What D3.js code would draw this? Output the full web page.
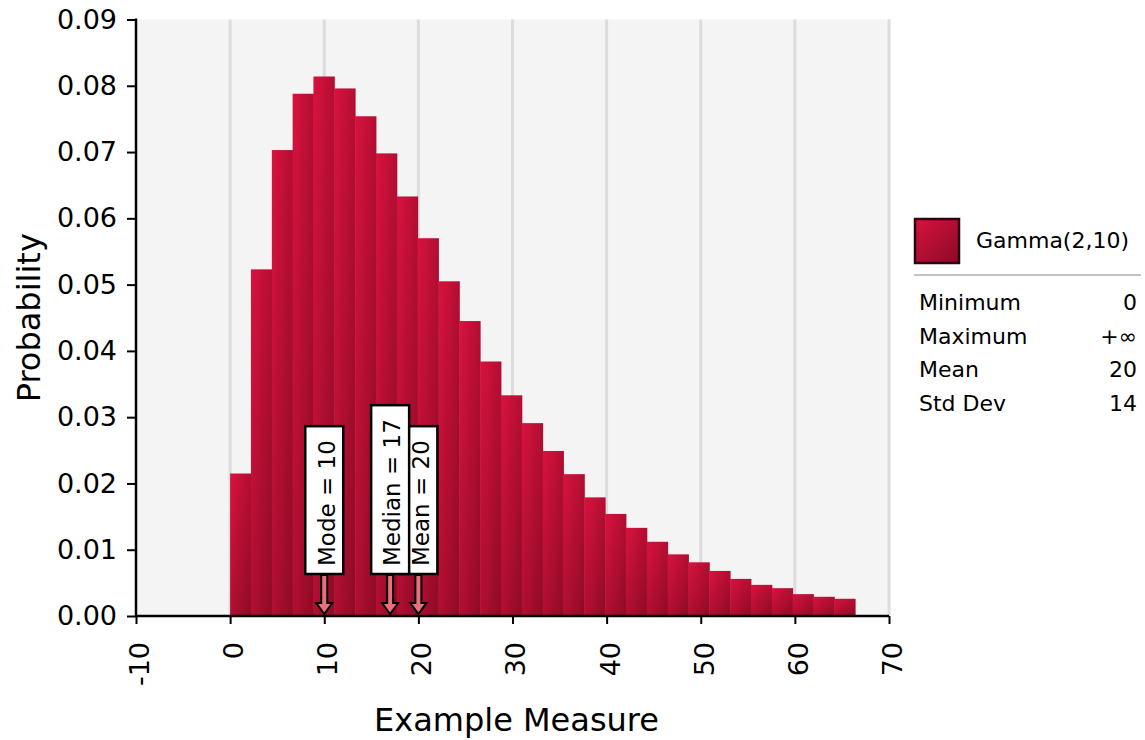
<!DOCTYPE html>
<html>
<head>
<meta charset="utf-8">
<script src="https://cdn.jsdelivr.net/npm/d3@7/dist/d3.min.js"></script>
<style>
  html, body { margin: 0; padding: 0; background: #ffffff; }
  svg { display: block; font-family: "DejaVu Sans", Verdana, sans-serif; }
</style>
</head>
<body>
<svg id="chart" width="1145" height="740"></svg>
<script>
// ---- data ----
const binEdges = [0, 2.21, 4.43, 6.64, 8.85, 11.07, 13.28, 15.49, 17.71, 19.92, 22.13,
                  24.35, 26.56, 28.77, 30.99, 33.2, 35.41, 37.63, 39.84, 42.05, 44.27,
                  46.48, 48.69, 50.91, 53.12, 55.33, 57.55, 59.76, 61.97, 64.19, 66.4];
const probabilities = [0.0215, 0.0523, 0.0703, 0.0788, 0.0814, 0.0796, 0.0754, 0.0698, 0.0633, 0.0570,
                       0.0505, 0.0445, 0.0384, 0.0333, 0.0291, 0.0249, 0.0214, 0.0179, 0.0154, 0.0133,
                       0.0112, 0.0093, 0.0081, 0.0068, 0.0056, 0.0047, 0.0042, 0.0033, 0.0029, 0.0026];
const xTicks = [-10, 0, 10, 20, 30, 40, 50, 60, 70];
const yTicks = [0, 0.01, 0.02, 0.03, 0.04, 0.05, 0.06, 0.07, 0.08, 0.09];
const markerNames = ["Mode", "Mean", "Median"];
const markerValues = [10, 20, 17];
const seriesName = "Gamma(2,10)";
const statNames = ["Minimum", "Maximum", "Mean", "Std Dev"];
const statValues = ["0", "+\u221e", "20", "14"];
const xTitle = "Example Measure";
const yTitle = "Probability";

// ---- layout ----
const plot = { left: 136, right: 889, top: 19.5, bottom: 616 };
const svg = d3.select("#chart");

const x = d3.scaleLinear().domain([-10, 70]).range([plot.left, plot.right]);
const y = d3.scaleLinear().domain([0, 0.09]).range([plot.bottom, plot.top]);

const defs = svg.append("defs");
const grad = defs.append("linearGradient").attr("id", "barGrad")
  .attr("x1", 0).attr("y1", 0).attr("x2", 1).attr("y2", 1);
grad.append("stop").attr("offset", "0%").attr("stop-color", "#d8123e");
grad.append("stop").attr("offset", "100%").attr("stop-color", "#8c0b26");

const grad2 = defs.append("linearGradient").attr("id", "swatchGrad")
  .attr("x1", 0).attr("y1", 0).attr("x2", 1).attr("y2", 1);
grad2.append("stop").attr("offset", "0%").attr("stop-color", "#d8123e");
grad2.append("stop").attr("offset", "100%").attr("stop-color", "#8a0a26");

// plot background
svg.append("rect")
  .attr("x", plot.left).attr("y", plot.top)
  .attr("width", plot.right - plot.left).attr("height", plot.bottom - plot.top)
  .attr("fill", "#f4f4f4");

// vertical gridlines
svg.append("g").selectAll("line").data(xTicks.slice(1)).join("line")
  .attr("x1", d => x(d)).attr("x2", d => x(d))
  .attr("y1", plot.top).attr("y2", plot.bottom)
  .attr("stroke", "#dcdcdc").attr("stroke-width", 3);

// bars
const bars = probabilities.map((p, i) => ({ x0: binEdges[i], x1: binEdges[i + 1], p }));
svg.append("g").selectAll("rect").data(bars).join("rect")
  .attr("x", d => x(d.x0))
  .attr("width", d => x(d.x1) - x(d.x0) + 0.5)
  .attr("y", d => y(d.p))
  .attr("height", d => y(0) - y(d.p))
  .attr("fill", "url(#barGrad)");

// axes
const yAxis = d3.axisLeft(y).tickValues(yTicks).tickFormat(d3.format(".2f")).tickSize(9).tickPadding(10);
const gy = svg.append("g").attr("transform", `translate(${plot.left},0)`).call(yAxis);
gy.select(".domain").attr("stroke", "#000").attr("stroke-width", 2.5)
  .attr("d", `M0,${plot.top - 1}V${plot.bottom}`);
gy.selectAll(".tick line").attr("stroke", "#000").attr("stroke-width", 2);
gy.selectAll(".tick text").attr("font-size", 27).attr("fill", "#000")
  .attr("font-family", "DejaVu Sans, sans-serif");

const xAxis = d3.axisBottom(x).tickValues(xTicks).tickFormat(d => String(d)).tickSize(8);
const gx = svg.append("g").attr("transform", `translate(0,${plot.bottom})`).call(xAxis);
gx.select(".domain").attr("stroke", "#000").attr("stroke-width", 2.5)
  .attr("d", `M${plot.left},0H${plot.right}`);
gx.selectAll(".tick line").attr("stroke", "#000").attr("stroke-width", 2);
gx.selectAll(".tick text")
  .attr("font-size", 27).attr("fill", "#000").attr("font-family", "DejaVu Sans, sans-serif")
  .attr("text-anchor", "end")
  .attr("transform", "translate(3,26) rotate(-90)")
  .attr("x", 0).attr("y", 0).attr("dy", "0.35em");

// axis titles
svg.append("text").text(xTitle)
  .attr("x", (plot.left + plot.right) / 2 + 4).attr("y", 731)
  .attr("text-anchor", "middle").attr("font-size", 32).attr("fill", "#000");
svg.append("text").text(yTitle)
  .attr("transform", `translate(40,${(plot.top + plot.bottom) / 2}) rotate(-90)`)
  .attr("text-anchor", "middle").attr("font-size", 32).attr("fill", "#000");

// markers
const markers = markerNames.map((n, i) => ({ name: n, value: markerValues[i] }));
const boxBottom = 574;
const mg = svg.append("g").selectAll("g").data(markers).join("g")
  .attr("transform", d => `translate(${x(d.value)},0)`);
mg.append("path")
  .attr("d", `M-3,${boxBottom + 1}H3V603H8L0,614L-8,603H-3Z`)
  .attr("fill", "#e8707f").attr("stroke", "#000").attr("stroke-width", 2)
  .attr("stroke-linejoin", "miter");
mg.append("text")
  .text(d => `${d.name} = ${d.value}`)
  .attr("font-size", 23).attr("fill", "#000")
  .attr("transform", `translate(2,${boxBottom - 8}) rotate(-90)`)
  .attr("dy", "0.36em");
mg.each(function () {
  const g = d3.select(this);
  const len = g.select("text").node().getComputedTextLength();
  const h = len + 22;
  g.insert("rect", "text")
    .attr("x", -19).attr("width", 38)
    .attr("y", boxBottom - h).attr("height", h)
    .attr("fill", "#fff").attr("stroke", "#000").attr("stroke-width", 2.5);
});

// legend
const lg = svg.append("g");
lg.append("rect").attr("x", 915).attr("y", 219).attr("width", 44).attr("height", 44)
  .attr("fill", "url(#swatchGrad)").attr("stroke", "#2a0610").attr("stroke-width", 2.5);
lg.append("text").text(seriesName).attr("x", 976).attr("y", 248)
  .attr("font-size", 22).attr("fill", "#000");
lg.append("line").attr("x1", 914).attr("x2", 1141).attr("y1", 275).attr("y2", 275)
  .attr("stroke", "#888").attr("stroke-width", 1.2);

const rowY = d3.scaleLinear().domain([0, 3]).range([310, 410.5]);
lg.selectAll(".sn").data(statNames).join("text").attr("class", "sn")
  .text(d => d).attr("x", 919).attr("y", (d, i) => rowY(i))
  .attr("font-size", 22).attr("fill", "#000");
lg.selectAll(".sv").data(statValues).join("text").attr("class", "sv")
  .text(d => d).attr("x", 1137).attr("y", (d, i) => rowY(i))
  .attr("text-anchor", "end").attr("font-size", 22).attr("fill", "#000");
</script>
</body>
</html>
